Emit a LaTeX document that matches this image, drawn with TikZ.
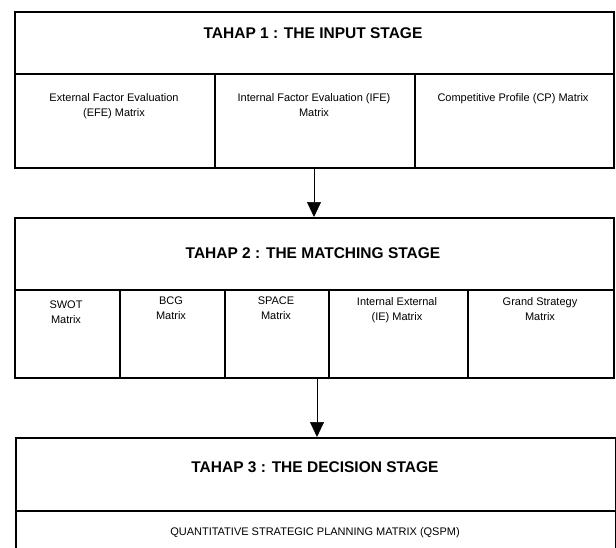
\documentclass[tikz,border=0pt]{standalone}
\usepackage{fontspec}
\setmainfont{Liberation Sans}
\usetikzlibrary{arrows.meta}
\begin{document}
\begin{tikzpicture}[x=1pt,y=-1pt,
  box/.style={draw=black, line width=1.6pt, inner sep=0pt},
  hdrtext/.style={font=\fontsize{15.5}{17}\selectfont\bfseries, inner sep=0pt},
  subtext/.style={font=\fontsize{11}{15}\selectfont, align=center, inner sep=0pt, anchor=north},
  flow/.style={draw=black, line width=0.7pt, -{Triangle[width=14pt,length=15pt]}}
]
\useasboundingbox (0,0) rectangle (616,547);
\clip (0,0) rectangle (616,547);

% ---------- Stage 1 ----------
\node[box, minimum width=599pt, minimum height=62pt, anchor=north west] (h1) at (14,11) {};
\node[hdrtext] (t1) at (313,33) {TAHAP 1 : THE INPUT STAGE};
\node[box, minimum width=200pt, minimum height=94pt, anchor=north west] (s11) at (14,73) {};
\node[box, minimum width=200pt, minimum height=94pt, anchor=north west] (s12) at (214,73) {};
\node[box, minimum width=199pt, minimum height=94pt, anchor=north west] (s13) at (414,73) {};
\node[subtext] (x11) at (114,93) {External Factor Evaluation\\(EFE) Matrix};
\node[subtext] (x12) at (314,93) {Internal Factor Evaluation (IFE)\\Matrix};
\node[subtext] (x13) at (513,93) {Competitive Profile (CP) Matrix};

% ---------- Stage 2 ----------
\node[box, minimum width=599pt, minimum height=72pt, anchor=north west] (h2) at (14,217) {};
\node[hdrtext] (t2) at (313,253) {TAHAP 2 : THE MATCHING STAGE};
\node[box, minimum width=105pt, minimum height=88pt, anchor=north west] (s21) at (14,289) {};
\node[box, minimum width=105pt, minimum height=88pt, anchor=north west] (s22) at (119,289) {};
\node[box, minimum width=104pt, minimum height=88pt, anchor=north west] (s23) at (224,289) {};
\node[box, minimum width=139pt, minimum height=88pt, anchor=north west] (s24) at (328,289) {};
\node[box, minimum width=146pt, minimum height=88pt, anchor=north west] (s25) at (467,289) {};
\node[subtext] (x21) at (66,301) {SWOT\\Matrix};
\node[subtext] (x22) at (171,297) {BCG\\Matrix};
\node[subtext] (x23) at (276,297) {SPACE\\Matrix};
\node[subtext] (x24) at (397,297) {Internal External\\(IE) Matrix};
\node[subtext] (x25) at (540,297) {Grand Strategy\\Matrix};

% ---------- Stage 3 ----------
\node[box, minimum width=600pt, minimum height=73pt, anchor=north west] (h3) at (15,437) {};
\node[hdrtext] (t3) at (315,467) {TAHAP 3 : THE DECISION STAGE};
\node[box, minimum width=600pt, minimum height=60pt, anchor=north west] (s31) at (15,510) {};
\node[subtext] (x31) at (315,527) {QUANTITATIVE STRATEGIC PLANNING MATRIX (QSPM)};

% ---------- Arrows ----------
\coordinate (a1s) at (314,167);
\coordinate (a1e) at (314,217);
\coordinate (a2s) at (317,377);
\coordinate (a2e) at (317,437);
\draw[flow] (a1s) -- (a1e);
\draw[flow] (a2s) -- (a2e);
\end{tikzpicture}
\end{document}
